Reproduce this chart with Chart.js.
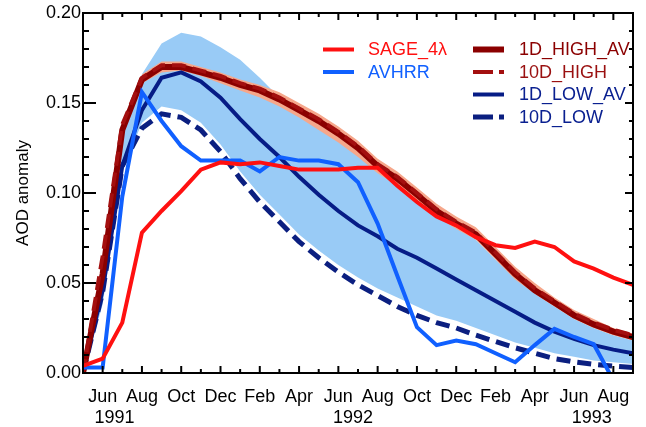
<!DOCTYPE html>
<html>
<head>
<meta charset="utf-8">
<script src="https://cdn.jsdelivr.net/npm/chart.js@4/dist/chart.umd.min.js"></script>
<style>
  html, body { margin: 0; padding: 0; background: #fff; }
</style>
</head>
<body>
<canvas id="c" width="646" height="427"></canvas>
<script>
// months since May 1991 (index 0) up to Sep 1993 (index 28)
const months = ["May","Jun","Jul","Aug","Sep","Oct","Nov","Dec",
  "Jan","Feb","Mar","Apr","May","Jun","Jul","Aug","Sep","Oct","Nov","Dec",
  "Jan","Feb","Mar","Apr","May","Jun","Jul","Aug","Sep"];
const xTicks = [0,1,2,3,4,5,6,7,8,9,10,11,12,13,14,15,16,17,18,19,20,21,22,23,24,25,26,27,28];
const yTicks = [0, 0.05, 0.10, 0.15, 0.20];
const yTickLabels = ["0.00","0.05","0.10","0.15","0.20"];
const yearLabels = ["1991","1992","1993"];
const yearPos = [1.6, 13.75, 25.9];

const sage = [0.004,0.008,0.028,0.078,0.090,0.101,0.113,0.117,0.116,0.117,0.115,0.113,0.113,0.113,0.114,0.114,
  0.104,0.095,0.087,0.082,0.0755,0.071,0.0695,0.073,0.070,0.062,0.058,0.053,0.049];
const avhrr = [0.003,0.003,0.098,0.156,0.140,0.126,0.118,0.118,0.118,0.112,0.120,0.118,0.118,0.116,0.106,0.083,
  0.054,0.0255,0.0155,0.018,0.016,0.011,0.006,0.0155,0.0245,0.020,0.016,-0.004,null];
const high1D = [0.000,0.055,0.135,0.163,0.170,0.170,0.167,0.164,0.160,0.157,0.152,0.146,0.140,0.133,0.125,0.115,
  0.108,0.099,0.090,0.083,0.077,0.066,0.055,0.046,0.039,0.032,0.027,0.023,0.020];
const high10D = [0.000,0.065,0.138,0.164,0.171,0.171,0.168,0.165,0.161,0.158,0.153,0.147,0.141,0.134,0.126,0.116,
  0.109,0.100,0.091,0.084,0.078,0.067,0.056,0.047,0.040,0.033,0.028,0.024,0.021];
const low1D = [0.000,0.046,0.115,0.146,0.164,0.167,0.162,0.153,0.141,0.130,0.120,0.109,0.099,0.090,0.082,0.076,
  0.069,0.064,0.058,0.052,0.046,0.040,0.034,0.028,0.023,0.019,0.0155,0.013,0.011];
const low10D = [0.000,0.045,0.115,0.136,0.144,0.142,0.135,0.123,0.108,0.095,0.084,0.073,0.064,0.056,0.049,0.043,
  0.037,0.032,0.028,0.025,0.021,0.0175,0.014,0.011,0.008,0.0062,0.0048,0.0038,0.003];
// ensemble spread bands
const blueLow = [0.000,0.038,0.112,0.139,0.148,0.146,0.139,0.127,0.112,0.099,0.088,0.077,0.068,0.060,0.053,0.047,
  0.042,0.037,0.032,0.029,0.025,0.021,0.017,0.014,0.011,0.009,0.007,0.006,0.005];
const blueHigh = [0.000,0.062,0.132,0.166,0.183,0.189,0.187,0.181,0.174,0.164,0.153,0.145,0.138,0.131,0.123,0.113,
  0.106,0.097,0.088,0.081,0.074,0.063,0.053,0.044,0.037,0.030,0.025,0.021,0.018];
const salmonLow = [null,null,null,0.161,0.167,0.168,0.165,0.161,0.157,0.153,0.148,0.142,0.135,0.128,0.120,0.111,
  0.104,0.096,0.087,0.080,0.074,0.063,0.052,0.044,0.037,0.030,0.025,0.021,0.018];
const salmonHigh = [null,null,null,0.166,0.173,0.173,0.170,0.167,0.163,0.160,0.156,0.150,0.144,0.137,0.129,0.119,
  0.112,0.103,0.094,0.087,0.081,0.070,0.059,0.050,0.042,0.035,0.030,0.025,0.022];

const pts = arr => arr.map((v, i) => ({ x: i, y: v }));

function line(label, data, color, width, dash, order) {
  return { label, data: pts(data), borderColor: color, borderWidth: width, borderDash: dash || [],
    pointRadius: 0, tension: 0, fill: false, order, borderCapStyle: 'butt' };
}

const datasets = [
  { label: "bandLo", data: pts(blueLow), borderWidth: 0, pointRadius: 0, fill: false, order: 20 },
  { label: "bandHi", data: pts(blueHigh), borderWidth: 0, pointRadius: 0, fill: "-1",
    backgroundColor: "#99cbf6", order: 20 },
  { label: "salLo", data: pts(salmonLow), borderWidth: 0, pointRadius: 0, fill: false, order: 19 },
  { label: "salHi", data: pts(salmonHigh), borderWidth: 0, pointRadius: 0, fill: "-1",
    backgroundColor: "#f6a78b", order: 19 },
  line("10D_LOW", low10D, "#0b1f80", 5, [14, 7], 8),
  line("1D_LOW_AV", low1D, "#061c86", 4, null, 7),
  line("10D_HIGH", high10D, "#a30f0f", 4, [14, 7], 5),
  line("1D_HIGH_AV", high1D, "#8b0000", 6, null, 6),
  Object.assign(line("AVHRR", avhrr, "#1060ff", 4, null, 2), { clip: 0 }),
  line("SAGE_4\u03bb", sage, "#ff1010", 4, null, 1)
];

const legendCols = [
  { sx: 323, tx: 368, rows: ["SAGE_4\u03bb", "AVHRR"] },
  { sx: 473, tx: 519, rows: ["1D_HIGH_AV", "10D_HIGH", "1D_LOW_AV", "10D_LOW"] }
];
const legendTextColor = { "SAGE_4\u03bb": "#ff1010", "AVHRR": "#1060ff", "1D_HIGH_AV": "#8b0000",
  "10D_HIGH": "#9a1010", "1D_LOW_AV": "#0a2090", "10D_LOW": "#0a2090" };

const frame = {
  id: "frame",
  afterDraw(chart) {
    const { ctx, chartArea: a, scales: { x, y } } = chart;
    ctx.save();
    ctx.strokeStyle = "#000";
    ctx.lineWidth = 2;
    ctx.strokeRect(a.left, a.top, a.right - a.left, a.bottom - a.top);
    ctx.beginPath();
    xTicks.forEach(i => {
      const px = x.getPixelForValue(i);
      const len = i % 2 === 1 ? 7 : 4;
      ctx.moveTo(px, a.bottom); ctx.lineTo(px, a.bottom - len);
      ctx.moveTo(px, a.top); ctx.lineTo(px, a.top + len);
    });
    for (let k = 0; k <= 20; k++) {
      const py = y.getPixelForValue(k / 100);
      const major = k % 5 === 0;
      ctx.moveTo(a.left, py); ctx.lineTo(a.left + (major ? 13 : 6), py);
      ctx.moveTo(a.right, py); ctx.lineTo(a.right - (major ? 8 : 4), py);
    }
    ctx.stroke();

    ctx.fillStyle = "#000";
    ctx.font = "18px 'Liberation Sans', Arial, sans-serif";
    ctx.textAlign = "center";
    ctx.textBaseline = "middle";
    yearLabels.forEach((t, i) => ctx.fillText(t, x.getPixelForValue(yearPos[i]), 418));

    // legend
    const byLabel = {};
    chart.data.datasets.forEach(d => byLabel[d.label] = d);
    ctx.textAlign = "left";
    legendCols.forEach(col => {
      col.rows.forEach((lab, r) => {
        const d = byLabel[lab];
        const yy = 49.5 + r * 22.5;
        ctx.strokeStyle = d.borderColor;
        ctx.lineWidth = d.borderWidth;
        ctx.setLineDash(d.borderDash.length ? [20, 6] : []);
        ctx.beginPath();
        ctx.moveTo(col.sx, yy); ctx.lineTo(col.sx + 31, yy);
        ctx.stroke();
        ctx.setLineDash([]);
        ctx.fillStyle = legendTextColor[lab];
        ctx.fillText(lab, col.tx, yy + 1);
      });
    });
    ctx.restore();
  }
};

new Chart(document.getElementById("c"), {
  type: "line",
  data: { datasets },
  options: {
    responsive: false,
    animation: false,
    devicePixelRatio: 1,
    layout: { padding: { left: 0, top: 13, right: 2, bottom: 0 } },
    plugins: { legend: { display: false }, tooltip: { enabled: false } },
    scales: {
      x: {
        type: "linear", min: 0, max: 28,
        afterFit: s => { s.height = 54; },
        afterBuildTicks: s => { s.ticks = xTicks.map(v => ({ value: v })); },
        grid: { display: false, drawTicks: false },
        border: { display: false },
        ticks: {
          autoSkip: false, maxRotation: 0, padding: 13, color: "#000",
          font: { family: "'Liberation Sans', Arial, sans-serif", size: 18 },
          callback: v => (v % 2 === 1 ? months[v] : "")
        }
      },
      y: {
        min: 0, max: 0.2,
        afterFit: s => { s.width = 83; },
        afterBuildTicks: s => { s.ticks = yTicks.map(v => ({ value: v })); },
        grid: { display: false, drawTicks: false },
        border: { display: false },
        title: {
          display: true, text: "AOD anomaly", color: "#000",
          font: { family: "'Liberation Sans', Arial, sans-serif", size: 17 },
          padding: { top: 13, bottom: 0 }
        },
        ticks: {
          padding: 2, color: "#000",
          font: { family: "'Liberation Sans', Arial, sans-serif", size: 18 },
          callback: (v, i) => yTickLabels[yTicks.indexOf(v)] ?? ""
        }
      }
    }
  },
  plugins: [frame]
});
</script>
</body>
</html>
